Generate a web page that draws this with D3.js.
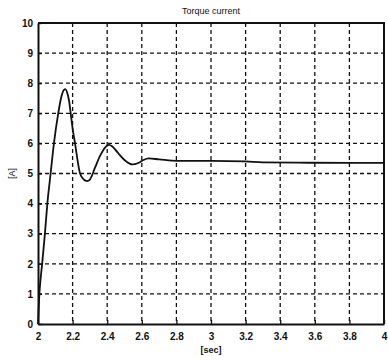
<!doctype html>
<html>
<head>
<script src="https://d3js.org/d3.v7.min.js"></script>
<style>
body { margin: 0; background: #fff; }
text { font-family: "Liberation Sans", Arial, sans-serif; fill: #111; }
</style>
</head>
<body>
<svg width="388" height="360"></svg>
<script>
// step response of the torque current
var time = [2.000, 2.003, 2.008, 2.015, 2.024, 2.040, 2.054, 2.073, 2.092, 2.117, 2.135, 2.150, 2.158, 2.168, 2.180, 2.189, 2.200, 2.214, 2.243, 2.265, 2.283, 2.300, 2.330, 2.360, 2.390, 2.410, 2.430, 2.460, 2.500, 2.547, 2.580, 2.610, 2.640, 2.700, 2.800, 2.900, 3.000, 3.200, 3.300, 3.500, 3.800, 4.000];
var current = [0, 0.4, 1.0, 1.5, 2.0, 3.0, 4.0, 5.0, 6.0, 7.0, 7.55, 7.78, 7.8, 7.7, 7.4, 7.0, 6.5, 6.0, 5.0, 4.8, 4.75, 4.8, 5.2, 5.6, 5.88, 5.95, 5.9, 5.7, 5.45, 5.3, 5.35, 5.45, 5.5, 5.47, 5.42, 5.42, 5.42, 5.4, 5.37, 5.36, 5.35, 5.35];

var xTicks = [2, 2.2, 2.4, 2.6, 2.8, 3, 3.2, 3.4, 3.6, 3.8, 4];
var xTickLabels = ["2", "2.2", "2.4", "2.6", "2.8", "3", "3.2", "3.4", "3.6", "3.8", "4"];
var yTicks = [0, 1, 2, 3, 4, 5, 6, 7, 8, 9, 10];

var svg = d3.select("svg"),
    plotLeft = 38, plotTop = 23, plotRight = 384, plotBottom = 324;

var xScale = d3.scaleLinear().domain([2, 4]).range([plotLeft, plotRight]),
    yScale = d3.scaleLinear().domain([0, 10]).range([plotBottom, plotTop]);

// dashed grid
svg.append("g").selectAll("line")
  .data(xTicks.slice(1, -1))
  .enter().append("line")
  .attr("x1", d => xScale(d)).attr("x2", d => xScale(d))
  .attr("y1", plotTop).attr("y2", plotBottom)
  .attr("stroke", "#111").attr("stroke-width", 1.3)
  .attr("stroke-dasharray", "4,3");

svg.append("g").selectAll("line")
  .data(yTicks.slice(1, -1))
  .enter().append("line")
  .attr("x1", plotLeft).attr("x2", plotRight)
  .attr("y1", d => yScale(d)).attr("y2", d => yScale(d))
  .attr("stroke", "#111").attr("stroke-width", 1.3)
  .attr("stroke-dasharray", "4,3");

// axes with inward ticks
var xAxis = svg.append("g")
  .attr("transform", "translate(0," + plotBottom + ")")
  .call(d3.axisBottom(xScale).tickValues(xTicks).tickSizeInner(-4).tickSizeOuter(0)
    .tickPadding(9).tickFormat((d, i) => xTickLabels[i]));

var yAxis = svg.append("g")
  .attr("transform", "translate(" + plotLeft + ",0)")
  .call(d3.axisLeft(yScale).tickValues(yTicks).tickSizeInner(-4).tickSizeOuter(0)
    .tickPadding(5));

[xAxis, yAxis].forEach(function (a) {
  a.select(".domain").attr("stroke", "#111").attr("stroke-width", 2);
  a.selectAll(".tick line").attr("stroke", "#111").attr("stroke-width", 1.3);
  a.selectAll(".tick text").style("font-size", "10px").style("font-weight", "bold");
});

// top and right border
svg.append("path")
  .attr("d", "M" + plotLeft + "," + plotTop + "H" + plotRight + "V" + plotBottom)
  .attr("fill", "none").attr("stroke", "#111").attr("stroke-width", 2);

// the current trace
var line = d3.line()
  .x((d, i) => xScale(time[i]))
  .y(d => yScale(d))
  .curve(d3.curveMonotoneX);

svg.append("path")
  .datum(current)
  .attr("d", line)
  .attr("fill", "none")
  .attr("stroke", "#111")
  .attr("stroke-width", 1.8);

// labels
svg.append("text")
  .attr("x", (plotLeft + plotRight) / 2).attr("y", 14)
  .attr("text-anchor", "middle")
  .style("font-size", "9px")
  .text("Torque current");

svg.append("text")
  .attr("x", (plotLeft + plotRight) / 2).attr("y", 353)
  .attr("text-anchor", "middle")
  .style("font-size", "9px").style("font-weight", "bold")
  .text("[sec]");

svg.append("text")
  .attr("transform", "translate(15," + (plotTop + plotBottom) / 2 + ")rotate(-90)")
  .attr("text-anchor", "middle")
  .style("font-size", "9px")
  .text("[A]");
</script>
</body>
</html>
